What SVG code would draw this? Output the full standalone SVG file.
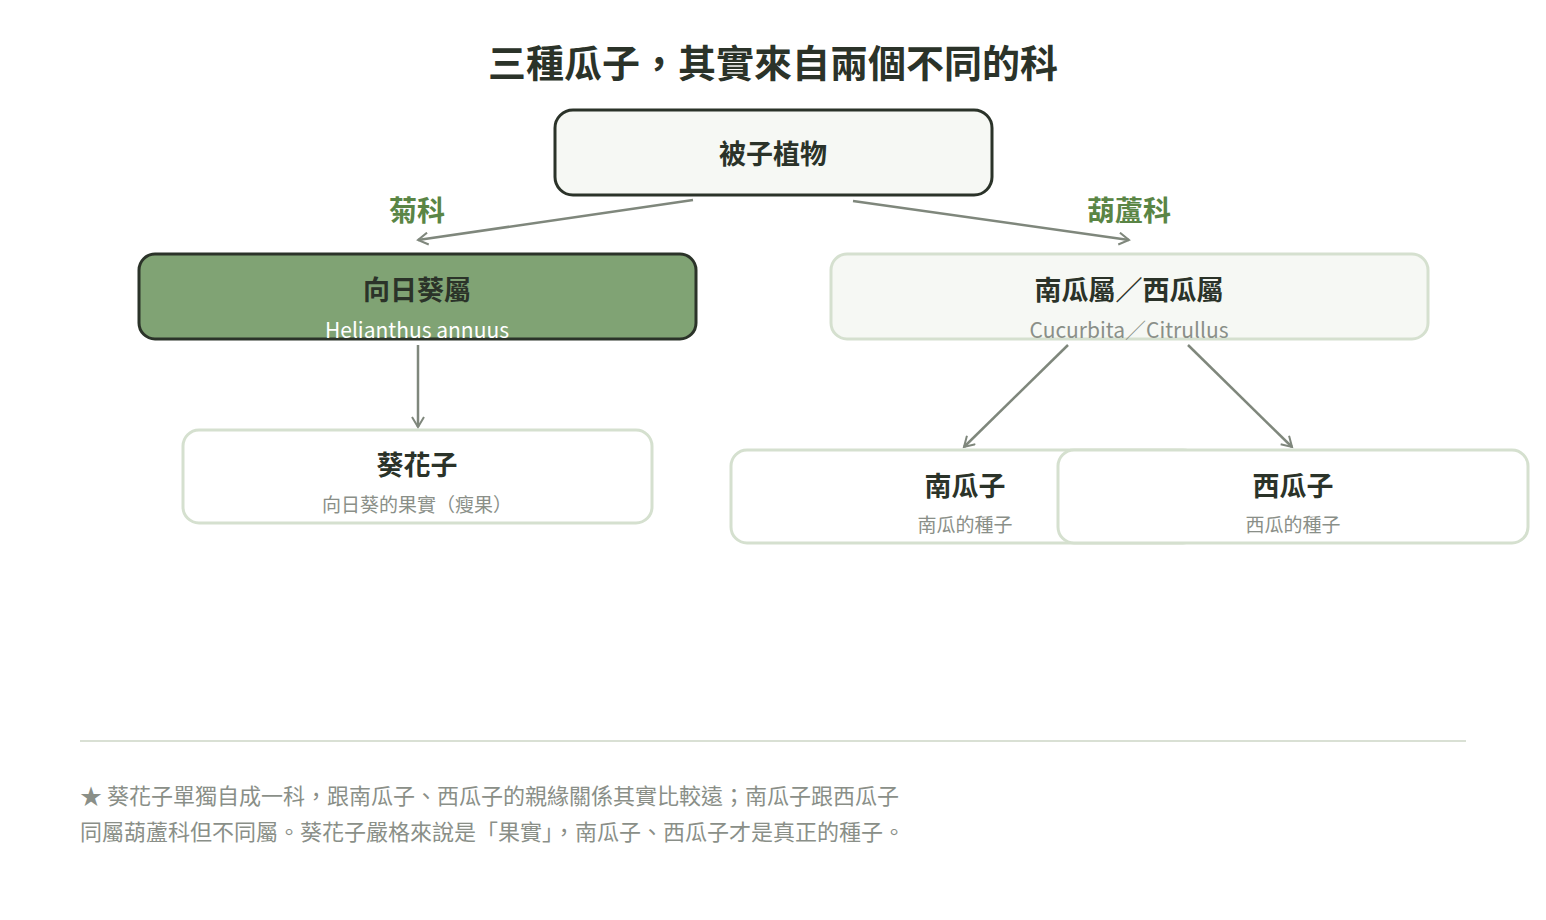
<svg xmlns="http://www.w3.org/2000/svg" width="1546" height="920" viewBox="0 0 1546 920">
<defs>
<marker id="ah" markerWidth="14" markerHeight="14" refX="11" refY="7" orient="auto" markerUnits="userSpaceOnUse"><path d="M1,1 L11,7 L1,13" fill="none" stroke="#7f877c" stroke-width="2"/></marker>
<style>
text{font-family:"Noto Sans CJK TC","Noto Sans",sans-serif;text-anchor:middle}
.t{font-size:27px;font-weight:700;fill:#2b3329}
.s{font-size:19px;fill:#8a8f88}
.c{stroke:#7f877c;stroke-width:2.5;fill:none;marker-end:url(#ah)}
.lb{font-size:28px;font-weight:700;fill:#5a8545}
</style>
</defs>
<rect width="1546" height="920" fill="#fff"/>
<text x="773" y="77" font-size="38" font-weight="700" fill="#2b3329">三種瓜子，其實來自兩個不同的科</text>
<g id="connectors">
<path class="c" d="M693,200 L418,240"/>
<path class="c" d="M853,201 L1129,240"/>
<path class="c" d="M418,345 L418,427"/>
<path class="c" d="M1068,345 L964,447"/>
<path class="c" d="M1188,345 L1292,447"/>
<text class="lb" x="417" y="221">菊科</text>
<text class="lb" x="1129" y="221">葫蘆科</text>
</g>
<g id="root"><rect x="555" y="110" width="437" height="85" rx="18" fill="#f6f8f4" stroke="#2b3329" stroke-width="3"/><text class="t" x="773" y="164">被子植物</text></g>
<g id="helianthus"><rect x="139" y="254" width="557" height="85" rx="16" fill="#80a374" stroke="#2b3329" stroke-width="3"/><text class="t" x="417" y="300" font-size="25">向日葵屬</text><text x="417" y="338" font-size="21" fill="#fff">Helianthus annuus</text></g>
<g id="cucurbita"><rect x="831" y="254" width="597" height="85" rx="16" fill="#f6f8f4" stroke="#d5e0cf" stroke-width="3"/><text class="t" x="1129" y="300" font-size="25">南瓜屬／西瓜屬</text><text x="1129" y="338" font-size="21" fill="#8a8f88">Cucurbita／Citrullus</text></g>
<g id="sunflower-seed"><rect x="183" y="430" width="469" height="93" rx="16" fill="#fff" stroke="#d5e0cf" stroke-width="3"/><text class="t" x="417" y="475" font-size="27">葵花子</text><text class="s" x="417" y="512">向日葵的果實（瘦果）</text></g>
<g id="pumpkin-seed"><rect x="731" y="450" width="468" height="93" rx="16" fill="#fff" stroke="#d5e0cf" stroke-width="3"/><text class="t" x="965" y="496">南瓜子</text><text class="s" x="965" y="532">南瓜的種子</text></g>
<g id="watermelon-seed"><rect x="1058" y="450" width="470" height="93" rx="16" fill="#fff" stroke="#d5e0cf" stroke-width="3"/><text class="t" x="1293" y="496">西瓜子</text><text class="s" x="1293" y="532">西瓜的種子</text></g>
<line x1="80" y1="741" x2="1466" y2="741" stroke="#d9e0d4" stroke-width="2"/>
<text x="80" y="804" font-size="22" fill="#8a8f88" style="text-anchor:start">★ 葵花子單獨自成一科，跟南瓜子、西瓜子的親緣關係其實比較遠；南瓜子跟西瓜子</text>
<text x="80" y="840" font-size="22" fill="#8a8f88" style="text-anchor:start">同屬葫蘆科但不同屬。葵花子嚴格來說是「果實」，南瓜子、西瓜子才是真正的種子。</text>
</svg>
